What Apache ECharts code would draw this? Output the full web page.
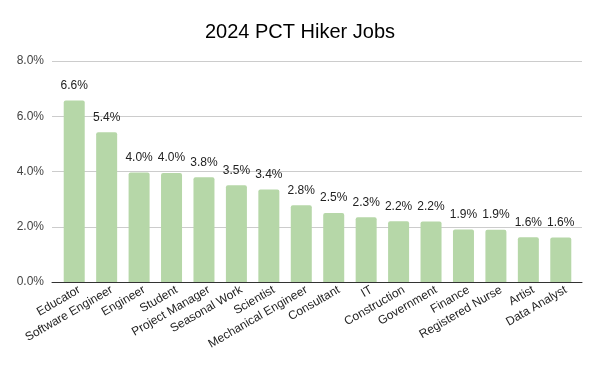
<!DOCTYPE html>
<html>
<head>
<meta charset="utf-8">
<script src="https://cdn.jsdelivr.net/npm/echarts@6/dist/echarts.min.js"></script>
<style>
    html, body { margin: 0; padding: 0; background: #fff; }
    #chart { width: 600px; height: 371px; }
</style>
</head>
<body>
<div id="chart"></div>
<script>
const jobs = ['Educator', 'Software Engineer', 'Engineer', 'Student', 'Project Manager', 'Seasonal Work',
    'Scientist', 'Mechanical Engineer', 'Consultant', 'IT', 'Construction', 'Government', 'Finance',
    'Registered Nurse', 'Artist', 'Data Analyst']
const share = [6.57, 5.42, 3.96, 3.95, 3.79, 3.5, 3.35, 2.78, 2.5, 2.34, 2.2, 2.19, 1.9, 1.89, 1.62, 1.61]
const yTicks = [0, 2, 4, 6, 8]

const font = 'Liberation Sans, Arial, sans-serif'
const yMin = yTicks[0]
const yMax = yTicks[yTicks.length - 1]
const myChart = echarts.init(document.getElementById('chart'))
myChart.setOption({
    animation: false,
    title: {
        text: '2024 PCT Hiker Jobs',
        left: 'center',
        top: 17,
        textStyle: { fontFamily: font, fontSize: 20, fontWeight: 'normal', color: '#000' }
    },
    // grid 0 holds gridlines + baseline, grid 1 holds the bars (inset a little like sheets does)
    grid: [
        { left: 52, right: 18, top: 61, bottom: 89 },
        { left: 58, right: 23, top: 61, bottom: 89 }
    ],
    xAxis: [
        {
            gridIndex: 0,
            type: 'value',
            min: 0,
            max: 1,
            axisLine: { show: true, onZero: false, lineStyle: { color: '#333', width: 1 } },
            axisTick: { show: false },
            axisLabel: { show: false },
            splitLine: { show: false }
        },
        {
            gridIndex: 1,
            type: 'category',
            data: jobs,
            axisLine: { show: false },
            axisTick: { show: false },
            axisLabel: {
                interval: 0,
                rotate: 30,
                margin: 10,
                padding: [0, -6, 0, 0],
                color: '#222',
                fontFamily: font,
                fontSize: 12
            }
        }
    ],
    yAxis: [
        {
            gridIndex: 0,
            type: 'value',
            min: yMin,
            max: yMax,
            interval: 2,
            axisLine: { show: false },
            axisTick: { show: false },
            axisLabel: {
                color: '#444',
                fontFamily: font,
                fontSize: 12,
                margin: 8,
                formatter: v => v.toFixed(1) + '%'
            },
            splitLine: { lineStyle: { color: '#ccc' } }
        },
        {
            gridIndex: 1,
            type: 'value',
            min: yMin,
            max: yMax,
            interval: 2,
            show: false
        }
    ],
    series: [{
        type: 'bar',
        xAxisIndex: 1,
        yAxisIndex: 1,
        data: share,
        barWidth: 21,
        itemStyle: { color: '#b6d7a8', borderRadius: [2, 2, 0, 0] },
        label: {
            show: true,
            position: 'top',
            distance: 9,
            color: '#222',
            fontFamily: font,
            fontSize: 12,
            formatter: p => p.value.toFixed(1) + '%'
        }
    }]
})
</script>
</body>
</html>
